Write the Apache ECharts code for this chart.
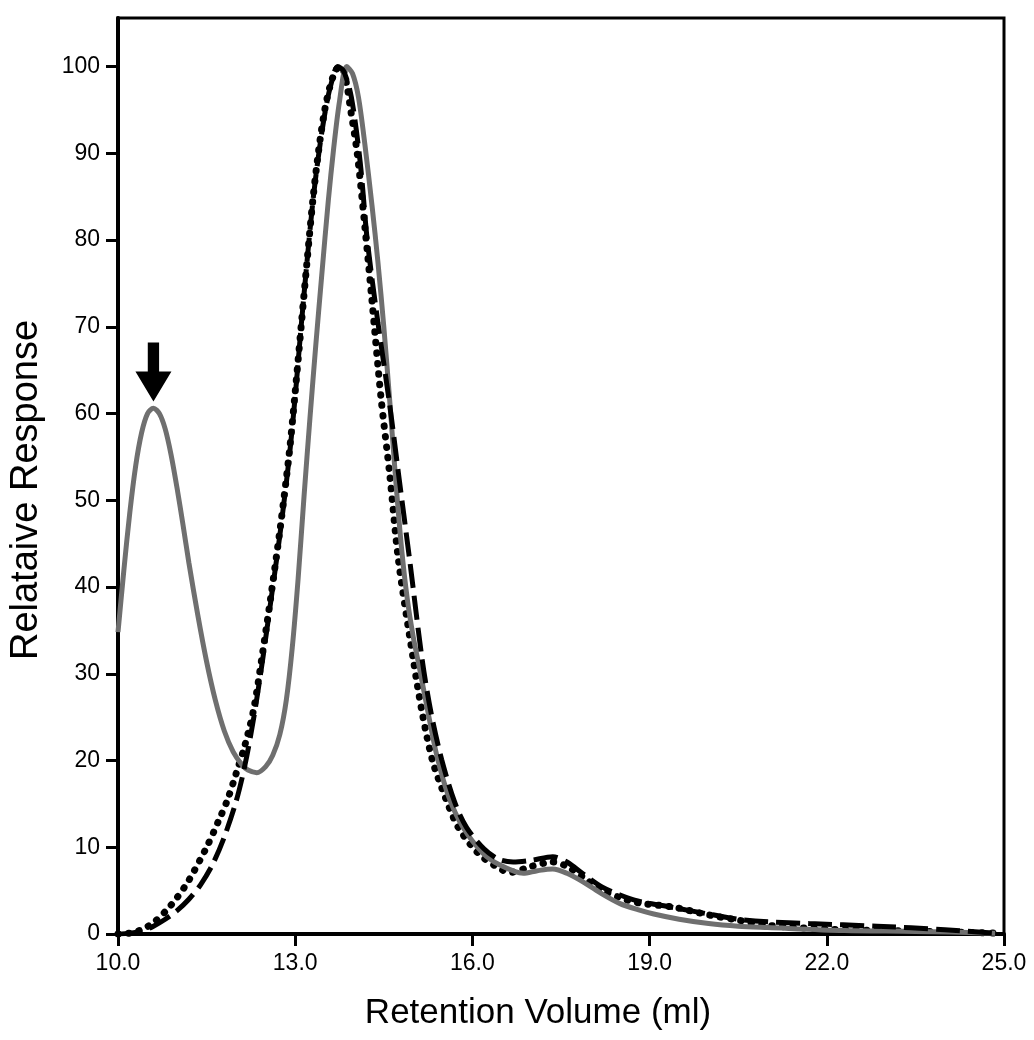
<!DOCTYPE html>
<html>
<head>
<meta charset="utf-8">
<script src="https://cdn.jsdelivr.net/npm/echarts@6/dist/echarts.min.js"></script>
<style>
html,body{margin:0;padding:0;background:#fff;}
#chart{width:1034px;height:1040px;}
</style>
</head>
<body>
<div id="chart"></div>
<script>
// Tick labels
var xTicks = [10, 13, 16, 19, 22, 25];
var yTicks = [0, 10, 20, 30, 40, 50, 60, 70, 80, 90, 100];

// Solid gray trace [retention volume, relative response]
var grayTrace = [
  [10.0,34.8],[10.1,42],[10.2,48.6],[10.3,54],[10.4,57.8],[10.5,60],[10.6,60.6],[10.7,60],
  [10.8,58.2],[10.9,55.2],[11.0,51.4],[11.1,47.2],[11.2,42.8],[11.35,36.8],[11.5,31.4],[11.65,26.9],
  [11.8,23.4],[11.95,21],[12.1,19.5],[12.2,18.9],[12.35,18.6],[12.5,19.3],[12.62,20.6],[12.74,23],
  [12.85,27],[12.95,33],[13.05,41],[13.15,50.5],[13.25,59.5],[13.35,68],[13.45,76],[13.56,84.5],
  [13.65,90.5],[13.75,96],[13.87,100],[13.97,99.2],[14.07,96.5],[14.18,91],[14.3,84],[14.4,77.5],
  [14.5,70],[14.6,61.5],[14.7,52.5],[14.8,44.5],[14.9,38.5],[15.0,34.2],[15.1,30.8],[15.25,25.5],
  [15.4,20.5],[15.6,15.8],[15.84,12.3],[16.18,9.3],[16.45,8.0],[16.86,7.0],[17.1,7.3],[17.36,7.5],
  [17.6,7.0],[17.9,5.9],[18.2,4.6],[18.5,3.5],[18.8,2.8],[19.07,2.3],[19.5,1.7],[20.0,1.2],
  [20.5,0.9],[21.0,0.75],[22.3,0.4],[23.5,0.3],[24.85,0.1]
];

// Black dotted trace
var dottedTrace = [
  [10.0,0],[10.2,0.1],[10.4,0.5],[10.6,1.3],[10.83,2.8],[11.0,4.2],[11.2,6.2],[11.5,10],
  [11.7,13],[11.85,15.4],[12.0,18.5],[12.15,21.8],[12.3,26],[12.45,32.5],[12.6,39.5],[12.75,47],
  [12.9,55.5],[13.0,62.5],[13.1,70],[13.2,77.5],[13.3,84.7],[13.4,90.5],[13.5,95],[13.6,98],
  [13.7,99.7],[13.78,100],[13.87,98],[13.93,95.4],[14.05,90],[14.18,81.5],[14.3,73],[14.45,62],
  [14.6,53],[14.75,43],[15.0,31.6],[15.15,25.5],[15.32,20.1],[15.5,16.5],[15.76,12.3],[16.1,9.3],
  [16.4,7.8],[16.64,7.1],[17.0,7.8],[17.36,8.3],[17.6,7.8],[17.9,6.4],[18.2,5.0],[18.5,4.2],
  [18.8,3.6],[19.4,3.1],[20.0,2.2],[20.5,1.6],[21.0,1.0],[22.0,0.55],[23.0,0.4],[24.0,0.25],[24.85,0.1]
];

// Black long-dashed trace
var dashedTrace = [
  [10.0,0],[10.2,0.1],[10.4,0.3],[10.6,0.9],[10.8,1.7],[11.0,2.7],[11.2,4.0],[11.4,5.7],
  [11.6,8.0],[11.8,11.2],[12.0,15.3],[12.15,19.5],[12.3,25],[12.45,31.7],[12.6,39],[12.75,46.5],
  [12.9,55],[13.0,62],[13.1,70],[13.2,77.5],[13.3,84.5],[13.4,90],[13.5,94.5],[13.6,97.8],
  [13.72,100],[13.82,99.5],[13.95,96.5],[14.1,89],[14.22,80],[14.4,70.5],[14.6,61],[14.75,53],
  [14.94,43],[15.15,31.6],[15.3,25.5],[15.48,20.1],[15.7,15.2],[15.9,12.3],[16.2,9.8],[16.45,8.6],
  [16.69,8.3],[17.0,8.5],[17.36,8.9],[17.6,8.3],[17.9,6.8],[18.2,5.4],[18.5,4.5],[18.8,3.8],
  [19.36,3.1],[20.0,2.3],[20.5,1.7],[21.0,1.4],[21.7,1.2],[22.85,0.9],[24.0,0.5],[24.9,0.05]
];

// Arrow annotation over the first gray peak
var arrowAt = [10.6, 64.8];

var FONT = 'Liberation Sans, Arial, sans-serif';
var chart = echarts.init(document.getElementById('chart'), null, {renderer: 'canvas'});
chart.setOption({
  backgroundColor: '#ffffff',
  animation: false,
  grid: {
    left: 118, right: 30, top: 18, bottom: 106,
    show: true, borderColor: '#000', borderWidth: 3, backgroundColor: 'transparent'
  },
  xAxis: {
    type: 'value', min: 10, max: 25,
    name: 'Retention Volume (ml)', nameLocation: 'middle', nameGap: 62,
    nameTextStyle: {fontFamily: FONT, fontSize: 35, color: '#000', padding: [0, 46, 0, 0]},
    axisLine: {show: true, onZero: false, lineStyle: {color: '#000', width: 4}},
    axisTick: {show: true, length: 12, customValues: xTicks, lineStyle: {color: '#000', width: 3}},
    axisLabel: {customValues: xTicks, margin: 18, fontFamily: FONT, fontSize: 23, color: '#000',
      formatter: function (v) { return v.toFixed(1); }},
    splitLine: {show: false}
  },
  yAxis: {
    type: 'value', min: 0, max: 105.6,
    name: 'Relataive Response', nameLocation: 'middle', nameGap: 72, nameRotate: 90,
    nameTextStyle: {fontFamily: FONT, fontSize: 38, color: '#000', padding: [0, 28, 0, 0]},
    axisLine: {show: true, onZero: false, lineStyle: {color: '#000', width: 4}},
    axisTick: {show: true, length: 12, customValues: yTicks, lineStyle: {color: '#000', width: 3}},
    axisLabel: {customValues: yTicks, margin: 18, fontFamily: FONT, fontSize: 23, color: '#000'},
    splitLine: {show: false}
  },
  series: [
    {
      type: 'line', name: 'dotted', data: dottedTrace, showSymbol: false, symbol: 'none',
      smooth: 0.3, z: 2,
      lineStyle: {color: '#000', width: 7, type: [0.5, 10], cap: 'round'}
    },
    {
      type: 'line', name: 'gray', data: grayTrace, showSymbol: false, symbol: 'none',
      smooth: 0.3, z: 3,
      lineStyle: {color: '#6f6f6f', width: 5},
      markPoint: {
        symbol: 'path://M12,0 L23,0 L23,29 L35,29 L17.5,59 L0,29 L12,29 Z',
        symbolSize: [36, 59], symbolKeepAspect: false, silent: true,
        itemStyle: {color: '#000'}, label: {show: false},
        data: [{coord: arrowAt}]
      }
    },
    {
      type: 'line', name: 'dashed', data: dashedTrace, showSymbol: false, symbol: 'none',
      smooth: 0.3, z: 4,
      lineStyle: {color: '#000', width: 5, type: [24, 8], cap: 'butt'}
    }
  ]
});
</script>
</body>
</html>
